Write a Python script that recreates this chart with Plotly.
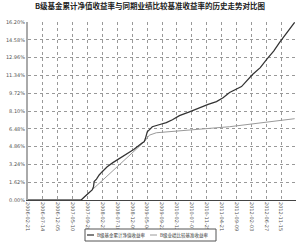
import plotly.graph_objects as go

title = "B级基金累计净值收益率与同期业绩比较基准收益率的历史走势对比图"
tick_labels = ["2006-02-21", "2006-07-14", "2006-12-05", "2007-05-10", "2007-09-28",
               "2008-02-27", "2008-07-18", "2008-12-09", "2009-05-04", "2009-09-22",
               "2010-02-12", "2010-07-07", "2010-11-25", "2011-04-21", "2011-09-09",
               "2012-02-03", "2012-06-27", "2012-11-15"]
y_ticks = [0, 1.62, 3.24, 4.86, 6.48, 8.10, 9.72, 11.34, 12.96, 14.58, 16.20]
fund_name = "B级基金累计净值收益率"
bench_name = "B级业绩比较基准收益率"

fund_x = [0, 1.0, 2.0, 3.0, 3.57, 3.8, 3.97, 4.15, 4.31, 4.4, 4.44, 4.6, 4.78, 5.0, 5.32, 5.7,
          6.1, 6.6, 7.1, 7.68, 7.8, 7.88, 8.01, 8.2, 8.35, 8.8, 9.29, 9.7, 10.17, 10.8,
          11.51, 12.1, 12.66, 13.1, 13.54, 14.34, 15.08, 15.6, 16.03, 16.5, 16.9, 17.4, 17.91]
fund_y = [0, 0, 0, 0, 0, 0.3, 0.5, 0.8, 0.91, 1.2, 1.67, 1.9, 2.28, 2.6, 3.02, 3.4,
          3.75, 4.11, 4.6, 5.21, 5.3, 5.57, 6.21, 6.45, 6.67, 6.85, 7.04, 7.3, 7.68, 8.0,
          8.41, 8.7, 8.95, 9.3, 9.78, 10.32, 11.42, 12.05, 12.79, 13.55, 14.35, 15.2, 16.17]

bench_x = [0, 1.0, 2.0, 3.0, 3.57, 7.81, 8.15, 8.62, 10.17, 13.54, 17.91]
bench_y = [0, 0, 0, 0, 0, 5.30, 5.9, 6.12, 6.30, 6.67, 7.40]

fund_color = "#333333"
bench_color = "#9a9a9a"

fig = go.Figure()
fig.add_trace(go.Scatter(x=bench_x, y=bench_y, mode="lines", name=bench_name,
                         line=dict(color=bench_color, width=1)))
fig.add_trace(go.Scatter(x=fund_x, y=fund_y, mode="lines", name=fund_name,
                         line=dict(color=fund_color, width=1.25)))

font_cjk = "Noto Sans CJK SC, DejaVu Sans, sans-serif"

# custom compact legend (plot area: x 28..296 px, y 22..200 px)
def px(x):
    return (x - 28) / 268.0

def py(y):
    return (200 - y) / 178.0

shapes = [
    dict(type="rect", xref="paper", yref="paper", x0=px(85), x1=px(216), y0=py(241), y1=py(229),
         line=dict(color="#555", width=1), fillcolor="white"),
    dict(type="line", xref="paper", yref="paper", x0=px(87), x1=px(94), y0=py(235), y1=py(235),
         line=dict(color=fund_color, width=1.25)),
    dict(type="line", xref="paper", yref="paper", x0=px(150), x1=px(157), y0=py(235), y1=py(235),
         line=dict(color=bench_color, width=1)),
]
annotations = [
    dict(text=fund_name, xref="paper", yref="paper", x=px(95), y=py(235), xanchor="left",
         yanchor="middle", showarrow=False, font=dict(family=font_cjk, size=4.5, color="#333")),
    dict(text=bench_name, xref="paper", yref="paper", x=px(158), y=py(235), xanchor="left",
         yanchor="middle", showarrow=False, font=dict(family=font_cjk, size=4.5, color="#333")),
]

fig.update_layout(
    width=300, height=242,
    margin=dict(l=28, r=4, t=22, b=42),
    paper_bgcolor="white", plot_bgcolor="white",
    title=dict(text=title, x=0.5, xanchor="center", y=0.985, yanchor="top",
               font=dict(family=font_cjk, size=7.5, color="#222", weight="bold")),
    showlegend=False,
    shapes=shapes, annotations=annotations,
    xaxis=dict(range=[0, 18], tickmode="array", tickvals=list(range(len(tick_labels))),
               ticktext=tick_labels, tickangle=90,
               tickfont=dict(family="DejaVu Sans", size=5, color="#555"),
               showgrid=True, gridcolor="#999", griddash="dot", gridwidth=1,
               showline=True, linecolor="#444", linewidth=1, zeroline=False,
               ticks="", fixedrange=True),
    yaxis=dict(range=[0, 16.2], tickmode="array", tickvals=y_ticks,
               ticktext=[f"{v:.2f}%" for v in y_ticks],
               tickfont=dict(family="DejaVu Sans", size=5, color="#555"),
               showgrid=True, gridcolor="#999", griddash="dot", gridwidth=1,
               showline=True, linecolor="#aaa", linewidth=2, zeroline=False,
               ticks="", fixedrange=True),
)
fig.write_html("out.html")
